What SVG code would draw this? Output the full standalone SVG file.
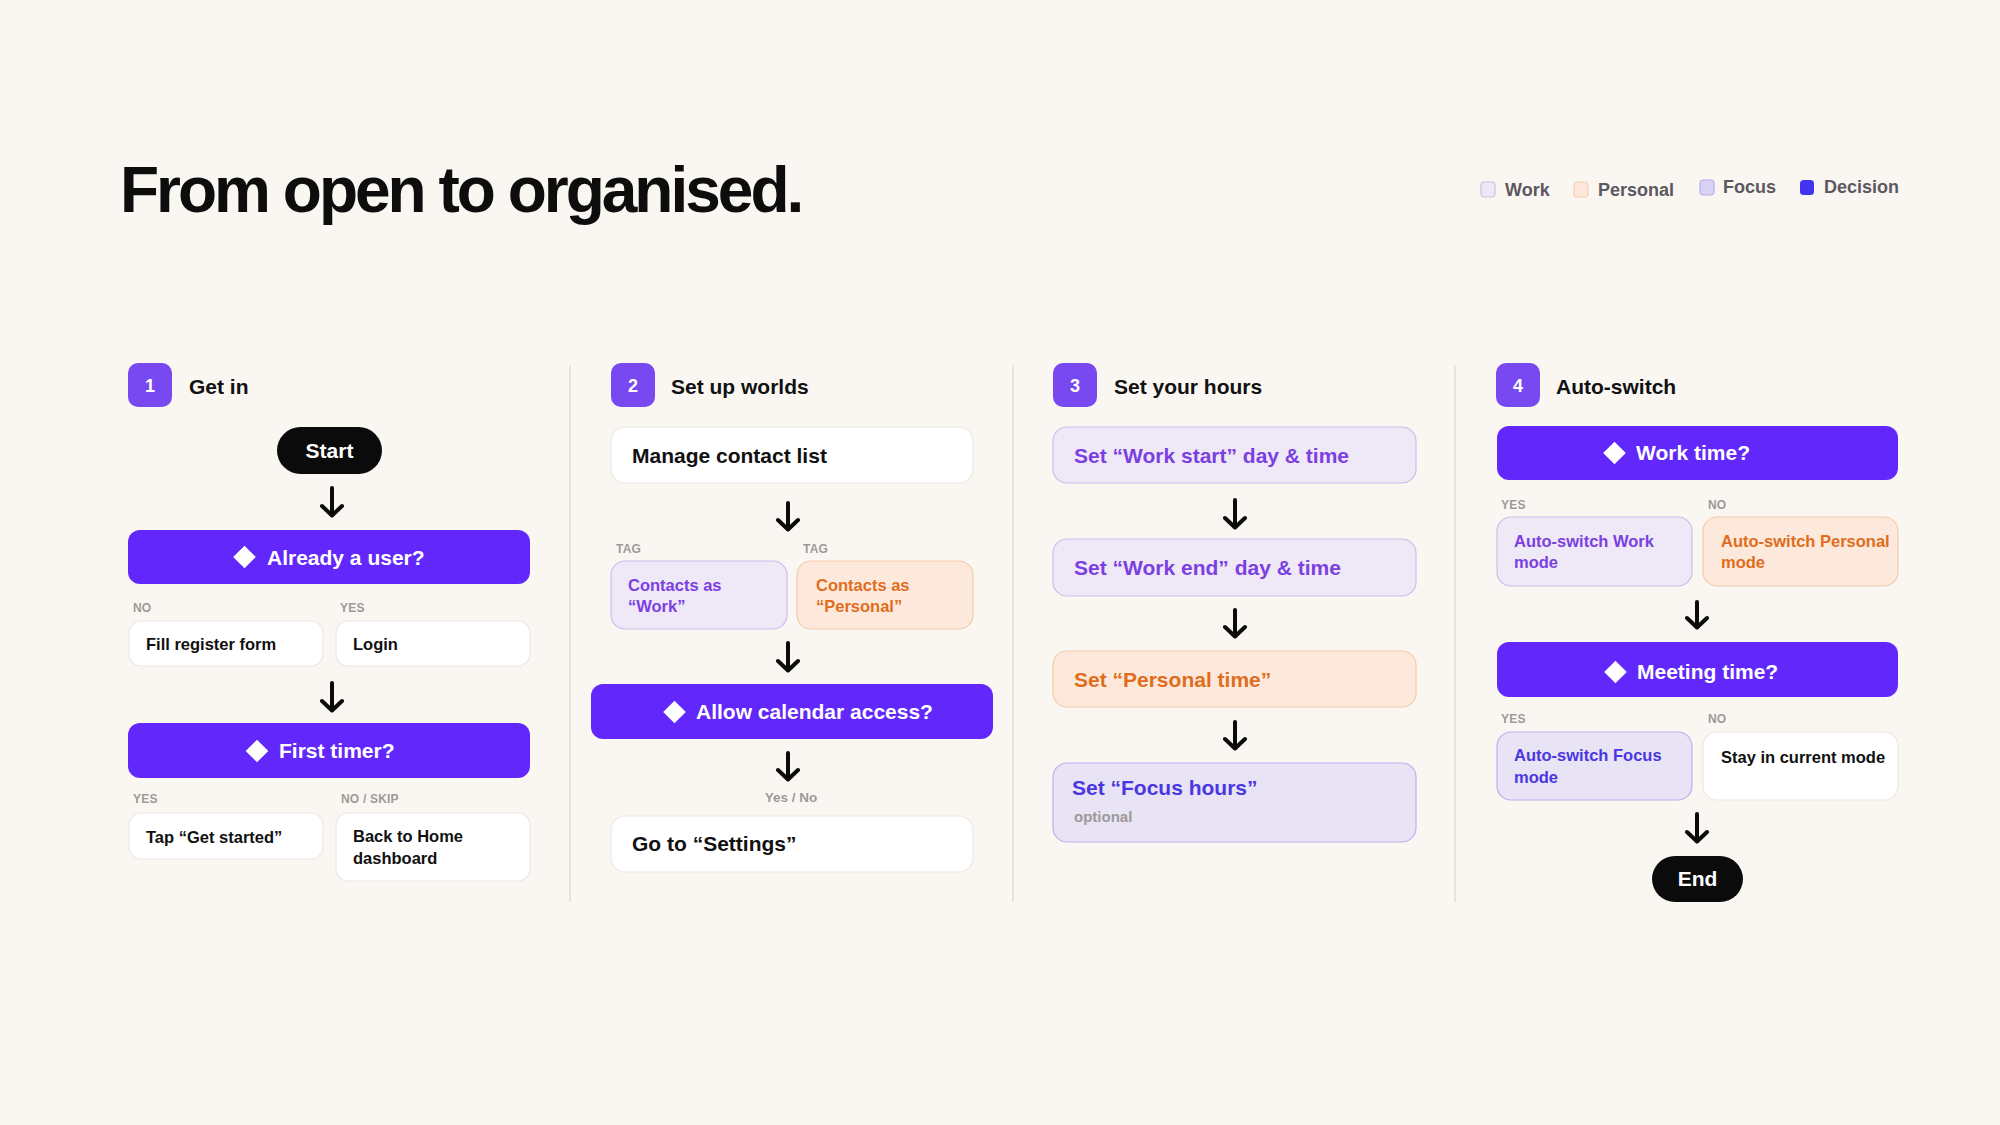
<svg xmlns="http://www.w3.org/2000/svg" width="2000" height="1125" viewBox="0 0 2000 1125">
<defs>
<style>
text{font-family:"Liberation Sans",Arial,Helvetica,sans-serif;font-weight:700}
.title{font-size:64px;fill:#0d0d0d;letter-spacing:-3px}
.leg{font-size:18px;fill:#5c5760}
.sec{font-size:21px;fill:#111}
.badge{fill:#7848f0}
.bnum{font-size:18px;fill:#fff;text-anchor:middle}
.pill{fill:#0b0b0b}
.pilltx{font-size:21px;fill:#fff;text-anchor:middle}
.dec{fill:#6228fb}
.dectx{font-size:21px;fill:#fff}
.dia{fill:#fff}
.wbox{fill:#fff;stroke:#ece8e3;stroke-width:1.2}
.work{fill:#efe8f7;stroke:#cdbcec;stroke-width:1.2}
.pers{fill:#fde9dc;stroke:#f4cba9;stroke-width:1.2}
.focus{fill:#e8e3f5;stroke:#bdb0ee;stroke-width:1.2}
.t16{font-size:16.5px;fill:#111}
.t21{font-size:21px;fill:#111}
.tw16{font-size:16.5px;fill:#7b3fe2}
.tp16{font-size:16.5px;fill:#e06d1c}
.tf16{font-size:16.5px;fill:#4a37e2}
.tw21{font-size:21px;fill:#7b3fe2}
.tp21{font-size:21px;fill:#e06d1c}
.tf21{font-size:21px;fill:#4a37e2}
.lab{font-size:12px;fill:#9c9a98;letter-spacing:0.2px}
.lab2{font-size:13.5px;fill:#9c9a98}
.opt{font-size:15px;fill:#9c9a98}
.div{stroke:#e2ddd8;stroke-width:1.5}
.arr{stroke:#0b0b0b;stroke-width:4;stroke-linecap:round;fill:none}
</style>
<marker id="head" viewBox="-12 -12 24 24" refX="0" refY="0" markerWidth="24" markerHeight="24" markerUnits="userSpaceOnUse" orient="auto">
<path d="M-9,-10 L0.5,0 L-9,10" fill="none" stroke="#0b0b0b" stroke-width="4" stroke-linecap="round" stroke-linejoin="round"/>
</marker>
</defs>
<rect width="2000" height="1125" fill="#faf7f3"/>

<text class="title" x="120" y="212">From open to organised.</text>

<g id="legend">
<rect x="1481" y="182" width="14" height="15" rx="3.5" fill="#eee8f6" stroke="#cbbfe8" stroke-width="1.2"/>
<text class="leg" x="1505" y="196">Work</text>
<rect x="1574" y="182" width="14" height="15" rx="3.5" fill="#fde8da" stroke="#f3cfb5" stroke-width="1.2"/>
<text class="leg" x="1598" y="196">Personal</text>
<rect x="1700" y="180" width="14" height="15" rx="3.5" fill="#d8d2f7" stroke="#b7aee8" stroke-width="1.2"/>
<text class="leg" x="1723" y="193">Focus</text>
<rect x="1800" y="180" width="14" height="15" rx="3.5" fill="#4433f0"/>
<text class="leg" x="1824" y="193">Decision</text>
</g>

<g id="dividers">
<line class="div" x1="570" y1="365" x2="570" y2="902"/>
<line class="div" x1="1013" y1="365" x2="1013" y2="902"/>
<line class="div" x1="1455" y1="365" x2="1455" y2="902"/>
</g>

<!-- Column 1 -->
<g id="sec1">
<rect class="badge" x="128" y="363" width="44" height="44" rx="10"/>
<text class="bnum" x="150" y="392">1</text>
<text class="sec" x="189" y="394">Get in</text>
</g>
<g id="start">
<rect class="pill" x="277" y="427" width="105" height="47" rx="23.5"/>
<text class="pilltx" x="329.5" y="458">Start</text>
</g>
<g id="already-user">
<rect class="dec" x="128" y="530" width="402" height="54" rx="12"/>
<rect class="dia" x="236.5" y="549" width="16" height="16" transform="rotate(45 244.5 557)"/>
<text class="dectx" x="267" y="564.5">Already a user?</text>
</g>
<text class="lab" x="133" y="612">NO</text>
<text class="lab" x="340" y="612">YES</text>
<g id="fill-register">
<rect class="wbox" x="129" y="621" width="194" height="45" rx="12"/>
<text class="t16" x="146" y="650">Fill register form</text>
</g>
<g id="login">
<rect class="wbox" x="336" y="621" width="194" height="45" rx="12"/>
<text class="t16" x="353" y="650">Login</text>
</g>
<g id="first-timer">
<rect class="dec" x="128" y="723" width="402" height="55" rx="12"/>
<rect class="dia" x="249" y="743" width="16" height="16" transform="rotate(45 257 751)"/>
<text class="dectx" x="279" y="758">First timer?</text>
</g>
<text class="lab" x="133" y="803">YES</text>
<text class="lab" x="341" y="803">NO / SKIP</text>
<g id="get-started">
<rect class="wbox" x="129" y="813" width="194" height="46" rx="12"/>
<text class="t16" x="146" y="843">Tap “Get started”</text>
</g>
<g id="back-home">
<rect class="wbox" x="336" y="813" width="194" height="68" rx="12"/>
<text class="t16" x="353" y="842">Back to Home</text>
<text class="t16" x="353" y="864">dashboard</text>
</g>

<!-- Column 2 -->
<g id="sec2">
<rect class="badge" x="611" y="363" width="44" height="44" rx="10"/>
<text class="bnum" x="633" y="392">2</text>
<text class="sec" x="671" y="394">Set up worlds</text>
</g>
<g id="manage-contacts">
<rect class="wbox" x="611" y="427" width="362" height="56" rx="14"/>
<text class="t21" x="632" y="463">Manage contact list</text>
</g>
<text class="lab" x="616" y="553">TAG</text>
<text class="lab" x="803" y="553">TAG</text>
<g id="contacts-work">
<rect class="work" x="611" y="561" width="176" height="68" rx="14"/>
<text class="tw16" x="628" y="591">Contacts as</text>
<text class="tw16" x="628" y="612">“Work”</text>
</g>
<g id="contacts-personal">
<rect class="pers" x="797" y="561" width="176" height="68" rx="14"/>
<text class="tp16" x="816" y="591">Contacts as</text>
<text class="tp16" x="816" y="612">“Personal”</text>
</g>
<g id="calendar-access">
<rect class="dec" x="591" y="684" width="402" height="55" rx="12"/>
<rect class="dia" x="666.5" y="704" width="16" height="16" transform="rotate(45 674.5 712)"/>
<text class="dectx" x="696" y="719">Allow calendar access?</text>
</g>
<text class="lab2" x="791" y="802" text-anchor="middle">Yes / No</text>
<g id="settings">
<rect class="wbox" x="611" y="816" width="362" height="56" rx="14"/>
<text class="t21" x="632" y="851">Go to “Settings”</text>
</g>

<!-- Column 3 -->
<g id="sec3">
<rect class="badge" x="1053" y="363" width="44" height="44" rx="10"/>
<text class="bnum" x="1075" y="392">3</text>
<text class="sec" x="1114" y="394">Set your hours</text>
</g>
<g id="work-start">
<rect class="work" x="1053" y="427" width="363" height="56" rx="14"/>
<text class="tw21" x="1074" y="463">Set “Work start” day &amp; time</text>
</g>
<g id="work-end">
<rect class="work" x="1053" y="539" width="363" height="57" rx="14"/>
<text class="tw21" x="1074" y="575">Set “Work end” day &amp; time</text>
</g>
<g id="personal-time">
<rect class="pers" x="1053" y="651" width="363" height="56" rx="14"/>
<text class="tp21" x="1074" y="687">Set “Personal time”</text>
</g>
<g id="focus-hours">
<rect class="focus" x="1053" y="763" width="363" height="79" rx="14"/>
<text class="tf21" x="1072" y="795">Set “Focus hours”</text>
<text class="opt" x="1074" y="822">optional</text>
</g>

<!-- Column 4 -->
<g id="sec4">
<rect class="badge" x="1496" y="363" width="44" height="44" rx="10"/>
<text class="bnum" x="1518" y="392">4</text>
<text class="sec" x="1556" y="394">Auto-switch</text>
</g>
<g id="work-time">
<rect class="dec" x="1497" y="426" width="401" height="54" rx="12"/>
<rect class="dia" x="1606.5" y="445" width="16" height="16" transform="rotate(45 1614.5 453)"/>
<text class="dectx" x="1636" y="460">Work time?</text>
</g>
<text class="lab" x="1501" y="509">YES</text>
<text class="lab" x="1708" y="509">NO</text>
<g id="auto-work">
<rect class="work" x="1497" y="517" width="195" height="69" rx="14"/>
<text class="tw16" x="1514" y="547">Auto-switch Work</text>
<text class="tw16" x="1514" y="568">mode</text>
</g>
<g id="auto-personal">
<rect class="pers" x="1703" y="517" width="195" height="69" rx="14"/>
<text class="tp16" x="1721" y="547">Auto-switch Personal</text>
<text class="tp16" x="1721" y="568">mode</text>
</g>
<g id="meeting-time">
<rect class="dec" x="1497" y="642" width="401" height="55" rx="12"/>
<rect class="dia" x="1607.5" y="664" width="16" height="16" transform="rotate(45 1615.5 672)"/>
<text class="dectx" x="1637" y="679">Meeting time?</text>
</g>
<text class="lab" x="1501" y="723">YES</text>
<text class="lab" x="1708" y="723">NO</text>
<g id="auto-focus">
<rect class="focus" x="1497" y="732" width="195" height="68" rx="14"/>
<text class="tf16" x="1514" y="761">Auto-switch Focus</text>
<text class="tf16" x="1514" y="783">mode</text>
</g>
<g id="stay-mode">
<rect class="wbox" x="1703" y="732" width="195" height="68" rx="14"/>
<text class="t16" x="1721" y="763">Stay in current mode</text>
</g>
<g id="end">
<rect class="pill" x="1652" y="856" width="91" height="46" rx="23"/>
<text class="pilltx" x="1697.5" y="886">End</text>
</g>

<g id="connectors">
<path class="arr" d="M332,488 V515" marker-end="url(#head)"/>
<path class="arr" d="M332,683 V710" marker-end="url(#head)"/>
<path class="arr" d="M788,503 V529" marker-end="url(#head)"/>
<path class="arr" d="M788,643 V670" marker-end="url(#head)"/>
<path class="arr" d="M788,753 V779" marker-end="url(#head)"/>
<path class="arr" d="M1235,500 V527" marker-end="url(#head)"/>
<path class="arr" d="M1235,610 V636" marker-end="url(#head)"/>
<path class="arr" d="M1235,722 V748" marker-end="url(#head)"/>
<path class="arr" d="M1697,602 V627" marker-end="url(#head)"/>
<path class="arr" d="M1697,814 V841" marker-end="url(#head)"/>
</g>
</svg>
